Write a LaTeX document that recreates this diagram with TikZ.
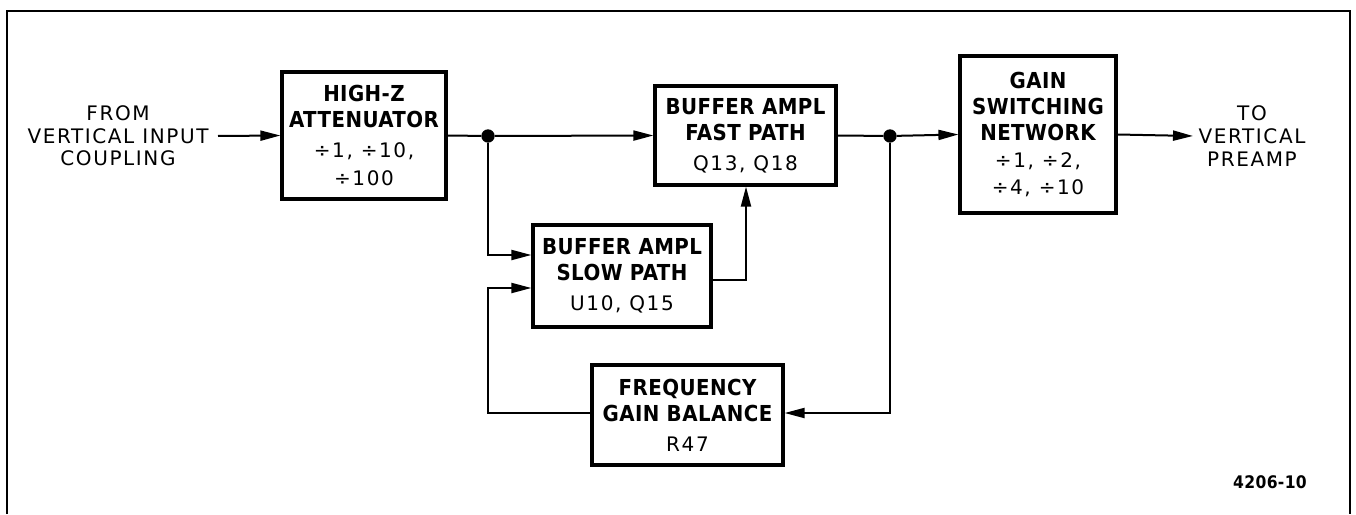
\documentclass[tikz,border=0pt]{standalone}
\usepackage{fontspec}
\setmainfont{DejaVu Sans}
\newfontfamily\titlefont[LetterSpace=2]{DejaVu Sans Condensed Bold}
\newfontfamily\valfont[LetterSpace=8]{DejaVu Sans}
\usetikzlibrary{arrows.meta}
\begin{document}
\begin{tikzpicture}[x=0.75pt,y=-0.75pt,
  blk/.style={draw,line width=2.4pt,inner sep=0pt,align=center,
    font=\titlefont\fontsize{16.5}{19.5}\selectfont},
  conn/.style={line width=1.5pt},
  arr/.style={conn,-{Triangle[length=15pt,width=7.5pt]}},
  lbl/.style={align=center,font=\valfont\fontsize{15}{17}\selectfont,inner sep=0pt},
  jdot/.style={circle,fill,inner sep=0pt,minimum size=10pt},
  frame/.style={line width=1.6pt}]
\useasboundingbox (0,0) rectangle (1356,514);
\newcommand{\vl}[1]{{\valfont\fontsize{15}{19.5}\selectfont #1}}
% frame
\draw[frame] (7,514) -- (7,11) -- (1350,11) -- (1350,514);
% blocks
\node[blk,minimum width=164*0.75pt,minimum height=127*0.75pt] (att) at (364,135.5)
  {HIGH-Z\\ATTENUATOR\\[3pt]\vl{÷1, ÷10,}\\[2pt]\vl{÷100}};
\node[blk,minimum width=181*0.75pt,minimum height=99*0.75pt] (fast) at (745.5,135.5)
  {BUFFER AMPL\\FAST PATH\\[3pt]\vl{Q13, Q18}};
\node[blk,minimum width=178*0.75pt,minimum height=102*0.75pt] (slow) at (622,276)
  {BUFFER AMPL\\SLOW PATH\\[3pt]\vl{U10, Q15}};
\node[blk,minimum width=191*0.75pt,minimum height=100*0.75pt] (freq) at (687.5,415)
  {FREQUENCY\\GAIN BALANCE\\[3pt]\vl{R47}};
\node[blk,minimum width=156*0.75pt,minimum height=157*0.75pt] (gain) at (1038,134.5)
  {GAIN\\SWITCHING\\NETWORK\\[1pt]\vl{÷1, ÷2,}\\[1pt]\vl{÷4, ÷10}};
% labels
\node[lbl] (inp) at (118,136) {FROM\\VERTICAL INPUT\\COUPLING};
\node[lbl] (outp) at (1252,136) {TO\\VERTICAL\\PREAMP};
\node[font=\titlefont\fontsize{13}{15}\selectfont,inner sep=0pt] (fig) at (1270,482) {4206-10};
% junctions
\node[jdot] (j1) at (488,136) {};
\node[jdot] (j2) at (890,136) {};
\coordinate (inA) at (218,136);
\coordinate (outA) at (1193,136);
% connectors
\draw[arr] (inA) -- (att.west);
\draw[conn] (att.east) -- (j1);
\draw[arr] (j1) -- (fast.west);
\draw[conn] (fast.east) -- (j2);
\draw[arr] (j2) -- (gain.west);
\draw[arr] (gain.east) -- (outA);
\draw[arr] (j1) |- ([yshift=15.75pt]slow.west);
\draw[arr] ([yshift=-3pt]slow.east) -| (fast.south -| 746,0);
\draw[arr] (j2) |- ([yshift=1.5pt]freq.east);
\draw[arr] ([yshift=1.5pt]freq.west) -| (488,288) -- ([yshift=-9pt]slow.west);
\end{tikzpicture}
\end{document}
